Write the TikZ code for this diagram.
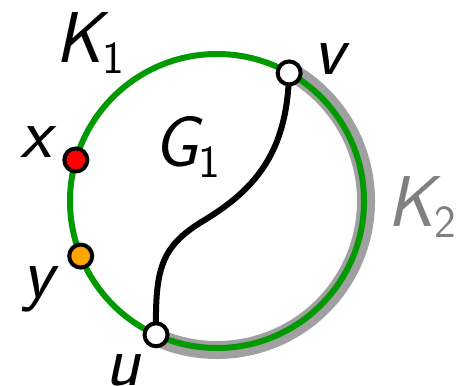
\documentclass[tikz,border=0pt]{standalone}
\usetikzlibrary{calc}
\definecolor{kgreen}{RGB}{0,153,0}
\definecolor{kband}{RGB}{160,160,160}
\definecolor{ktext}{RGB}{128,128,128}
\definecolor{korange}{RGB}{255,165,0}
\newcommand\mysub[1]{\raisebox{-11pt}{\fontsize{46}{50}\selectfont\upshape #1}}
\tikzset{
  dotnode/.style={circle,draw=black,line width=4pt,minimum size=23pt,inner sep=0pt},
  lab/.style={anchor=base west,inner sep=0pt,font=\fontsize{72}{80}\selectfont\sffamily\slshape},
  ring/.style={draw=kgreen,line width=6pt},
  band/.style={draw=kband,line width=18pt},
  pathline/.style={draw=black,line width=6pt}
}
\begin{document}
\begin{tikzpicture}[x=1pt,y=1pt]
\useasboundingbox (0,0) rectangle (457,385);
\coordinate (c) at (217,184);
\path[band] ([shift={(60.6:149)}]c) arc[start angle=60.6,end angle=-114.5,radius=149];
\path[ring] (c) circle[radius=147];
\coordinate (pv) at ([shift={(60.6:147)}]c);
\coordinate (pu) at ([shift={(-114.5:147)}]c);
\coordinate (m) at (203,164);
\path[pathline] (pv) .. controls (287,235) and (258,197) .. (m) .. controls (160,138) and (155,115) .. (pu);
\node[dotnode,fill=white] (v) at (pv) {};
\node[dotnode,fill=white] (u) at (pu) {};
\node[dotnode,fill=red] (x) at ([shift={(163.8:147)}]c) {};
\node[dotnode,fill=korange] (y) at ([shift={(202:147)}]c) {};
\node[lab] (k1) at (55,322) {K\mysub{1}};
\node[lab] (g1) at (153,218) {G\mysub{1}};
\node[lab,text=ktext] (k2) at (387,158) {K\mysub{2}};
\node[lab] (lv) at (313,310) {v};
\node[lab] (lx) at (20,227) {x};
\node[lab] (ly) at (22,87) {y};
\node[lab] (lu) at (105,0) {u};
\end{tikzpicture}
\end{document}
